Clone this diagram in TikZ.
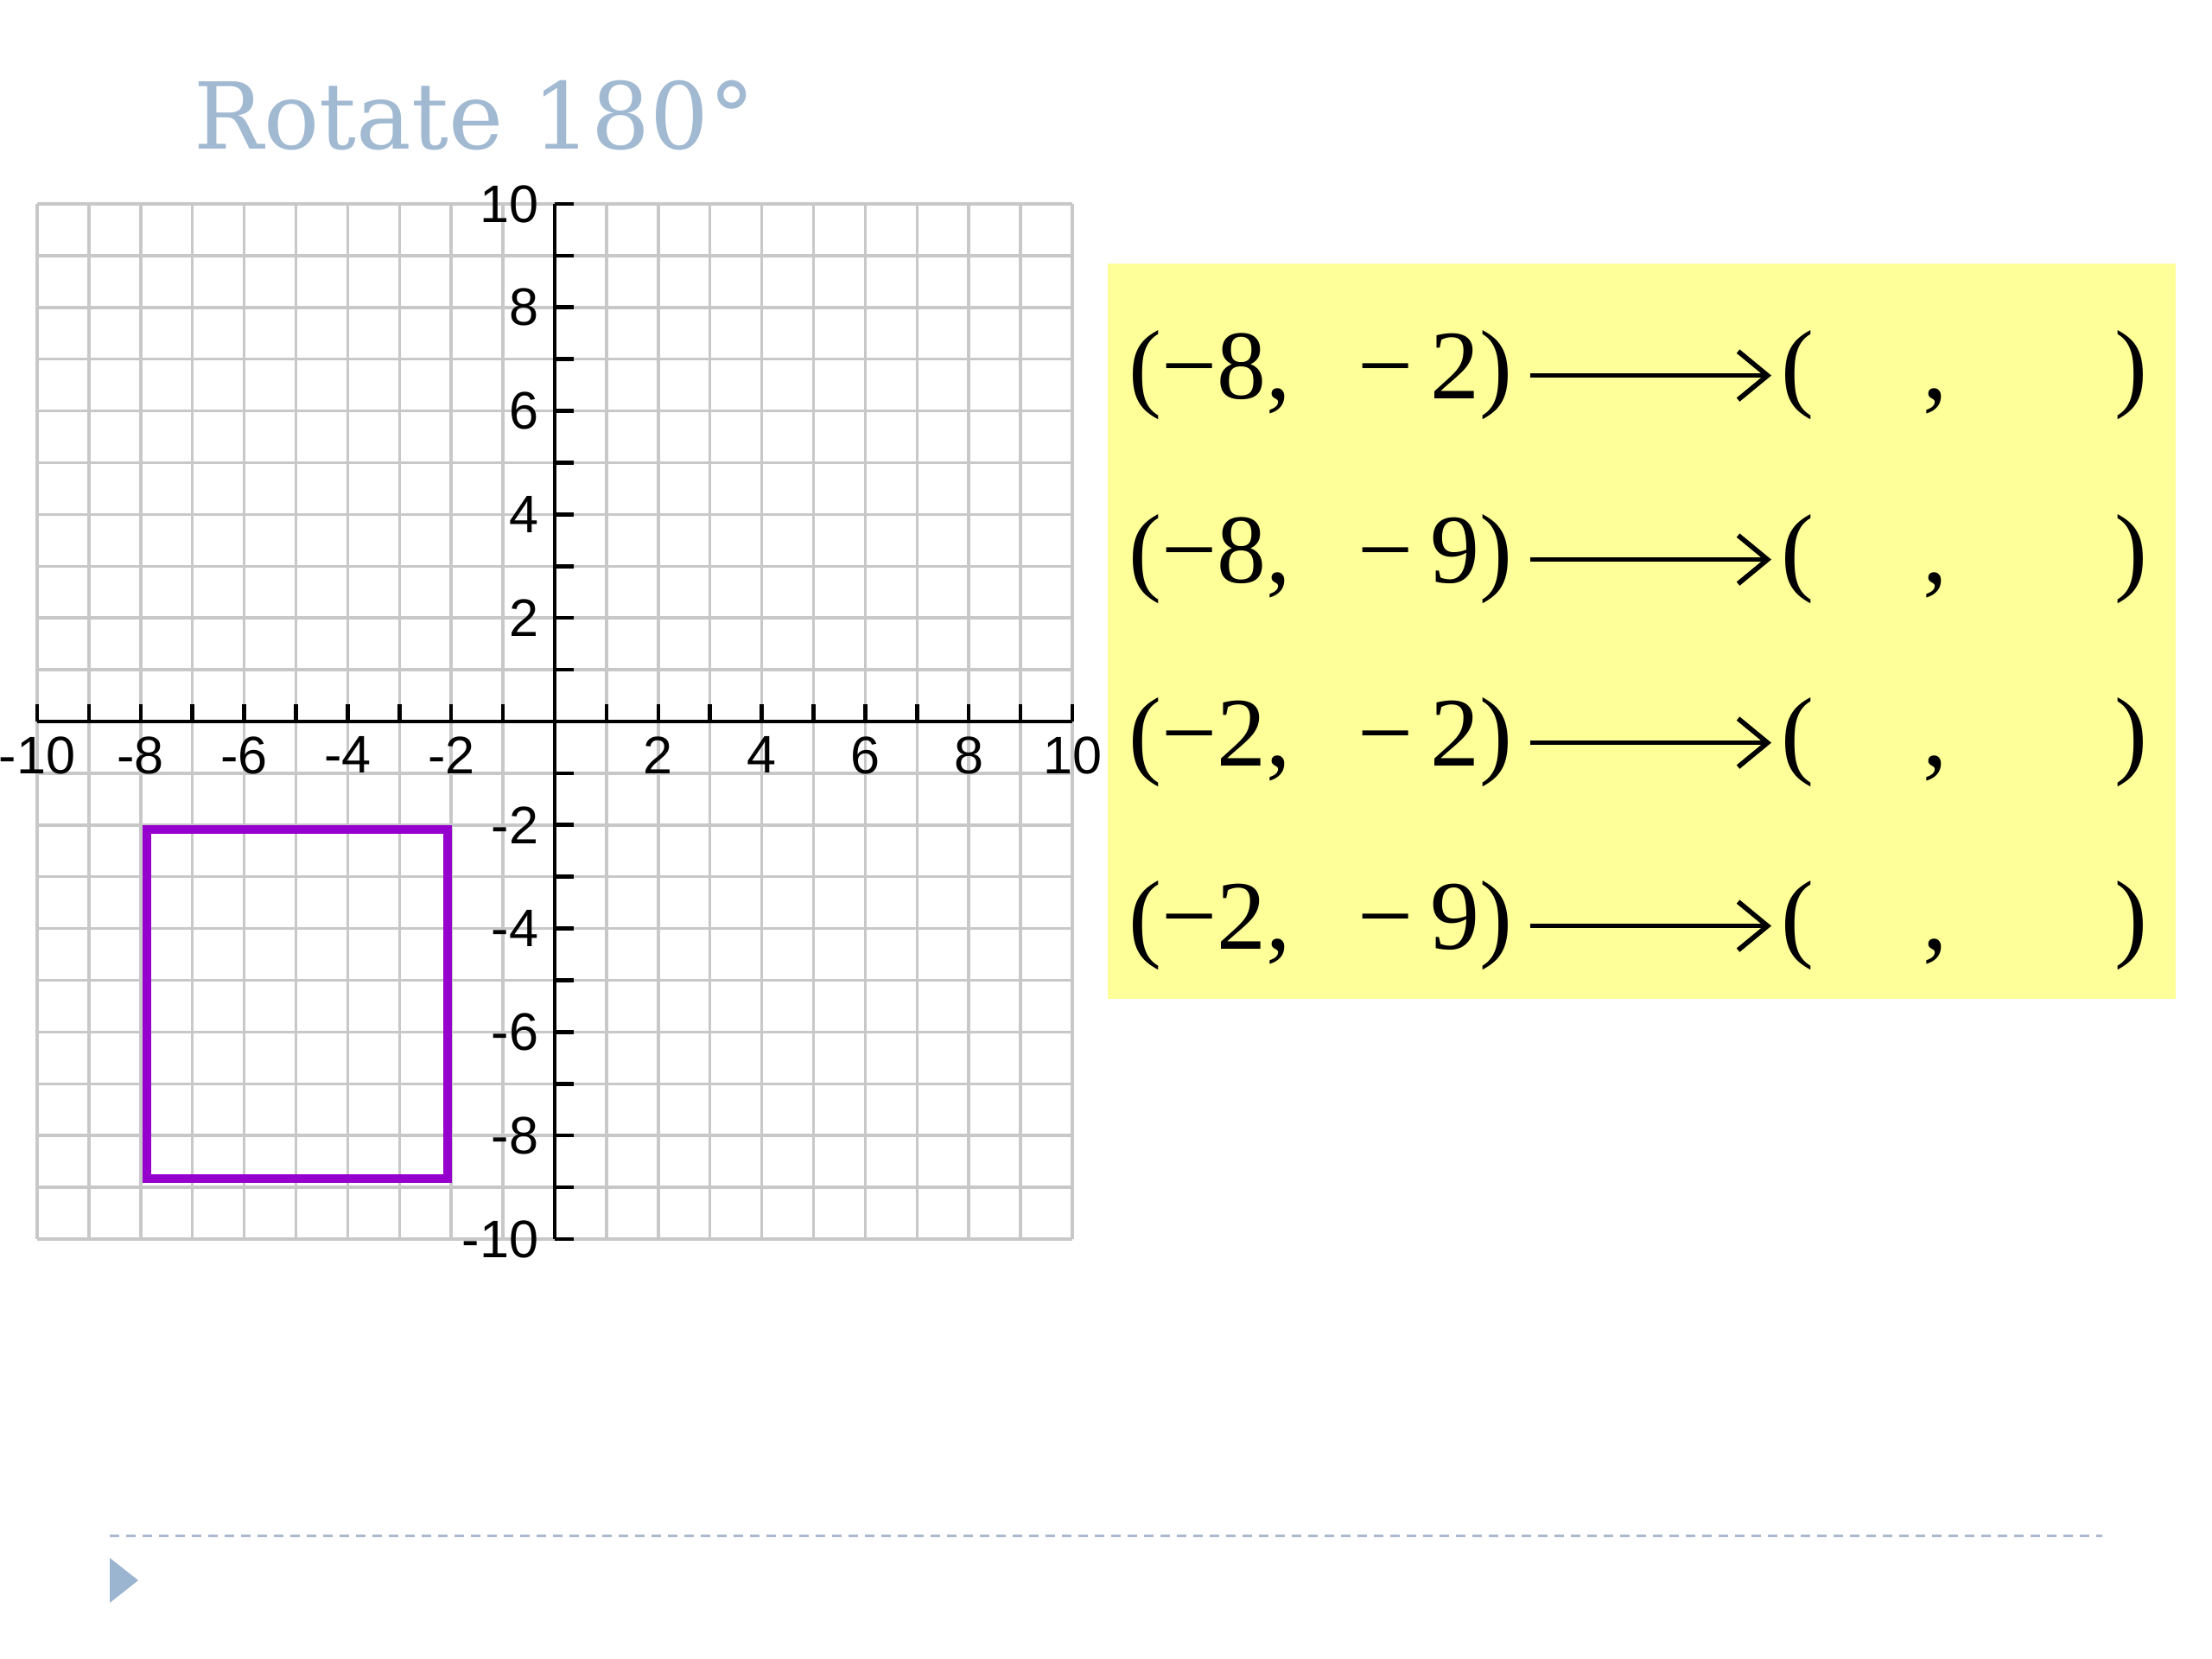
\documentclass[tikz,border=0pt]{standalone}
\usepackage{fontspec}
\setmainfont{Liberation Serif}
\newfontfamily\titlefont{DejaVu Serif}
\newfontfamily\labelfont{Liberation Sans}
\usetikzlibrary{arrows.meta,positioning}
\definecolor{titleblue}{RGB}{161,185,209}
\definecolor{boxyellow}{RGB}{255,255,153}
\definecolor{figpurple}{RGB}{150,0,205}
\definecolor{gridgray}{RGB}{200,200,200}
\definecolor{rulegray}{RGB}{170,185,205}
\definecolor{bulletblue}{RGB}{155,180,207}
\tikzset{
  %Define standard arrow tip
    >={Straight Barb[length=3.4mm,width=5.6mm]},
  %define style for grid and axes
  gridline/.style={
    draw=gridgray,
    line width=1pt},
  axisline/.style={
    draw=black,
    line width=1.3pt},
  ticklbl/.style={
    font=\labelfont\fontsize{17.4}{20}\selectfont,
    inner sep=0pt},
  %define style for the point lists
  pointtxt/.style={
    font=\fontsize{32.4}{38}\selectfont,
    inner sep=0pt,
    anchor=base west},
  %define style for arrows
  maparrow/.style={
    ->,
    line width=1.6pt,
    shorten <=2mm,
    shorten >=1.1mm}
}

\begin{document}
\begin{tikzpicture}
\useasboundingbox (0,0) rectangle (25.6,19.2);
%title
\node[font=\titlefont\fontsize{30.4}{36}\selectfont, text=titleblue,
      inner sep=0pt, anchor=base west] (title) at (2.24,17.47) {Rotate 180°};

%grid
\begin{scope}[shift={(6.42,10.85)}, x=0.599cm, y=0.599cm]
\foreach \k in {-10,...,10} {
  \draw[gridline] (\k,-10) -- (\k,10);
  \draw[gridline] (-10,\k) -- (10,\k);
}
\draw[axisline] (-10,0) -- (10,0);
\draw[axisline] (0,-10) -- (0,10);
\foreach \k in {-10,...,10} {
  \draw[axisline] (\k,0) -- (\k,0.33);
  \draw[axisline] (0,\k) -- (0.37,\k);
}
\foreach \k in {-10,-8,-6,-4,-2,2,4,6,8,10} {
  \node[ticklbl, anchor=north] (xl\k) at (\k,-0.28) {\k};
  \node[ticklbl, anchor=east] (yl\k) at (-0.3,\k) {\k};
}
%figure to be rotated
\draw[line width=2.8pt, figpurple] (-7.88,-2.09) rectangle (-2.07,-8.83);
\end{scope}

%point list
\fill[boxyellow] (12.82,7.64) rectangle (25.18,16.15);
\foreach \i/\xv/\yv/\yb in {1/8/2/14.58, 2/8/9/12.45, 3/2/2/10.33, 4/2/9/8.21} {
  \node[pointtxt] (src\i) at (13.06,\yb) {(−\xv,\hspace{0.77cm}−\hspace{0.2cm}\yv)};
  \node[pointtxt] (img\i) at (20.61,\yb) {(\hspace{1.26cm},\hspace{1.93cm})};
  \draw[maparrow] (src\i.east) -- (img\i.west);
}

%footer
\draw[rulegray, line width=0.85pt, dash pattern=on 1.1mm off 0.8mm] (1.27,1.42) -- (24.33,1.42);
\fill[bulletblue] (1.27,1.17) -- (1.27,0.65) -- (1.60,0.91) -- cycle;
\end{tikzpicture}
\end{document}
